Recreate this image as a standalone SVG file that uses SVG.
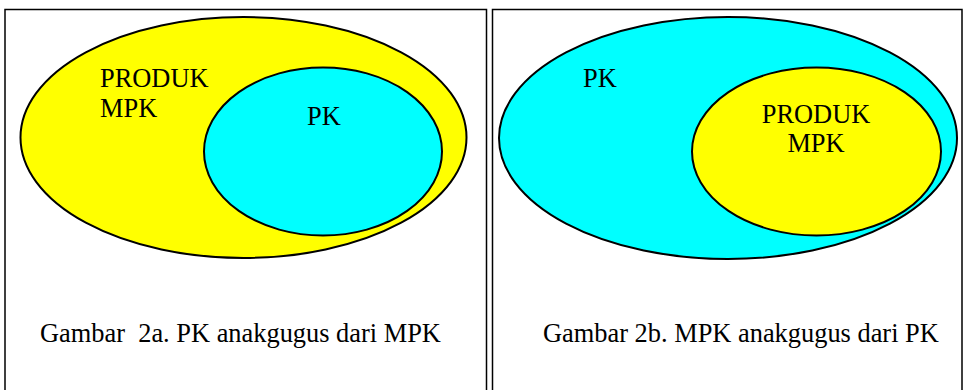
<svg xmlns="http://www.w3.org/2000/svg" width="964" height="390" viewBox="0 0 964 390">
  <style>
    .frame { fill: none; stroke: #000; stroke-width: 1.5; }
    .set { stroke: #000; stroke-width: 2; }
    .yellow { fill: #ffff00; }
    .cyan { fill: #00ffff; }
    text { font-family: "Liberation Serif", "Times New Roman", serif; font-size: 26.4px; fill: #000; white-space: pre; }
  </style>
  <rect width="964" height="390" fill="#fff"/>

  <!-- panel frames, open at the bottom -->
  <g id="frames">
    <path class="frame" d="M5,392 V9.5 H486.5 V392"/>
    <path class="frame" d="M492.5,392 V9.5 H962 V392"/>
  </g>

  <!-- 2a: PK inside PRODUK MPK -->
  <g id="set-mpk-a">
    <ellipse class="set yellow" cx="243.5" cy="137.5" rx="223" ry="120.5"/>
    <text x="100" y="87">PRODUK</text>
    <text x="100" y="117">MPK</text>
  </g>
  <g id="set-pk-a">
    <ellipse class="set cyan" cx="323" cy="151.5" rx="119" ry="84"/>
    <text x="307" y="125">PK</text>
  </g>
  <text id="caption-a" x="40" y="342" xml:space="preserve">Gambar  2a. PK anakgugus dari MPK</text>

  <!-- 2b: PRODUK MPK inside PK -->
  <g id="set-pk-b">
    <ellipse class="set cyan" cx="728" cy="138" rx="229" ry="121"/>
    <text x="583" y="87">PK</text>
  </g>
  <g id="set-mpk-b">
    <ellipse class="set yellow" cx="816.5" cy="151.5" rx="124.5" ry="84"/>
    <text x="816" y="123" text-anchor="middle">PRODUK</text>
    <text x="816" y="152" text-anchor="middle">MPK</text>
  </g>
  <text id="caption-b" x="543" y="342">Gambar 2b. MPK anakgugus dari PK</text>

  <g id="connectors"/>
</svg>
